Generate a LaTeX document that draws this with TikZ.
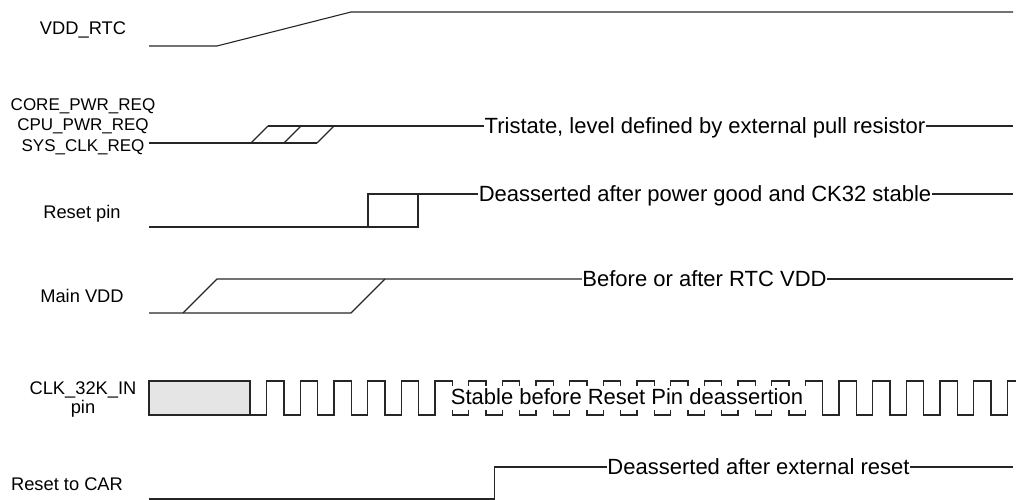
\documentclass[tikz,border=0pt]{standalone}
\usepackage{fontspec}
\setmainfont{Liberation Sans}
\tikzstyle{lbl}=[inner sep=0pt, anchor=base, font=\fontsize{18.3}{19}\selectfont]
\tikzstyle{reqlbl}=[inner sep=0pt, anchor=base, font=\fontsize{17}{20}\selectfont]
\tikzstyle{note}=[inner sep=0pt, text height=15.8pt, text depth=0pt, font=\fontsize{22}{26}\selectfont]
\tikzstyle{stablebox}=[fill=white, inner xsep=10pt, inner ysep=2.7pt, text height=16pt, text depth=3pt, font=\fontsize{22}{26}\selectfont]
\begin{document}
\begin{tikzpicture}[x=1pt, y=-1pt, line width=1.1pt, draw=black!85]
    \useasboundingbox (0,0) rectangle (1017,500);
    \node[lbl] (rtclbl) at (83,35) {VDD\_RTC};
    \draw (149,46) -- (217,46) -- (351,12) -- (1013,12);
    \node[reqlbl] (corelbl) at (83,111) {CORE\_PWR\_REQ};
    \node[reqlbl] (cpulbl) at (83,131) {CPU\_PWR\_REQ};
    \node[reqlbl] (syslbl) at (83,151.5) {SYS\_CLK\_REQ};
    \node[note] (tri) at (705,126) {Tristate, level defined by external pull resistor};
    \draw (149,143) -- (317,143);
    \foreach \x in {251,284,317}
        \draw (\x,143) -- ++(17,-17);
    \draw (268,126) -- (tri.west);
    \draw (tri.east) -- (1013,126);
    \node[lbl] (rstlbl) at (82,218) {Reset pin};
    \node[note] (pgood) at (705,194) {Deasserted after power good and CK32 stable};
    \draw (149,227) -- (418,227) -- (418,194);
    \draw (368,227) -- (368,194) -- (pgood.west);
    \draw (pgood.east) -- (1013,194);
    \node[lbl] (mainlbl) at (82,302) {Main VDD};
    \node[note] (rtcvdd) at (704.5,279) {Before or after RTC VDD};
    \draw (149,313) -- (351,313) -- (385,279);
    \draw (183,313) -- (217,279) -- (rtcvdd.west);
    \draw (rtcvdd.east) -- (1013,279);
    \node[lbl] (clklbl) at (83,394) {CLK\_32K\_IN};
    \node[lbl] (clkpin) at (83,413) {pin};
    \draw[fill=black!10] (149,381) rectangle (250,415);
    \draw (250,415) \foreach \k in {0,...,21} {
        -- ({266.67+33.667*\k},415) -- ++(0,-34) -- ++(17.33,0) -- ++(0,34)
        } -- (1007.4,415) -- (1007.4,381) -- (1016,381);
    \node[stablebox] (stable) at (627,398.2) {Stable before Reset Pin deassertion};
    \node[lbl] (carlbl) at (67,490) {Reset to CAR};
    \node[note] (extrst) at (758.5,467) {Deasserted after external reset};
    \draw (149,499) -- (494.5,499) -- (494.5,467) -- (extrst.west);
    \draw (extrst.east) -- (1013,467);
\end{tikzpicture}
\end{document}
